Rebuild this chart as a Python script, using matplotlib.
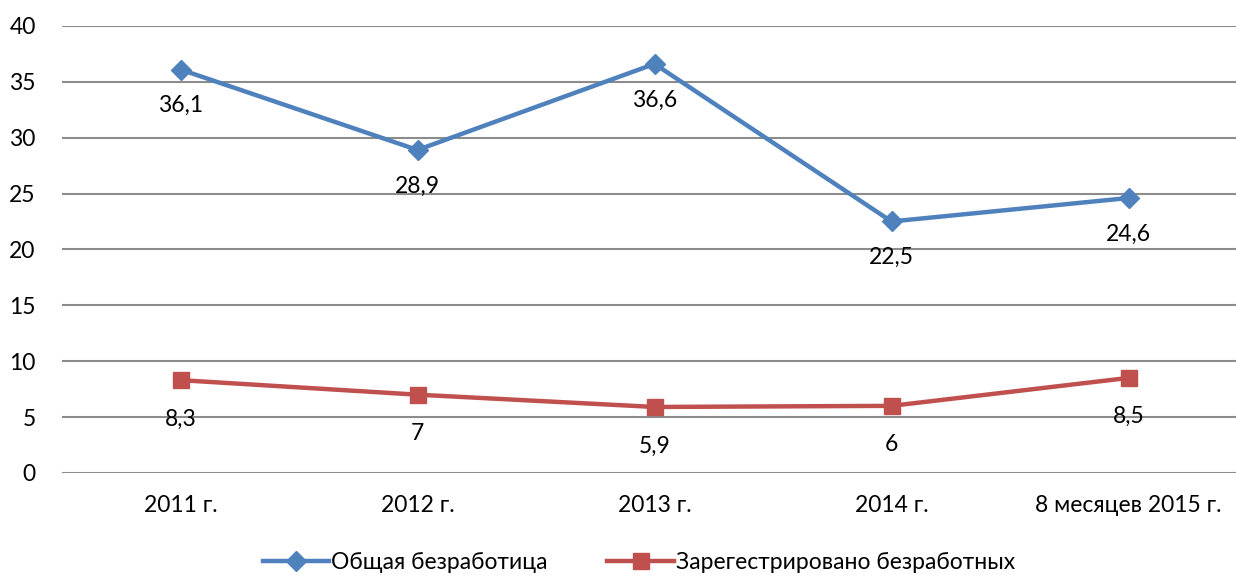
import matplotlib.pyplot as plt

plt.rcParams['font.family'] = ['Lato', 'DejaVu Sans']

categories = ["2011 г.", "2012 г.", "2013 г.", "2014 г.", "8 месяцев 2015 г."]
total_unemp = [36.1, 28.9, 36.6, 22.5, 24.6]
registered = [8.3, 7, 5.9, 6, 8.5]
total_labels = ["36,1", "28,9", "36,6", "22,5", "24,6"]
reg_labels = ["8,3", "7", "5,9", "6", "8,5"]

fs = 16.5

fig = plt.figure(figsize=(12.36, 5.76), dpi=100)
ax = fig.add_axes([62 / 1236, 0.179, 1185 / 1236, 0.776])

x = list(range(len(categories)))
ax.plot(x, total_unemp, color='#4F81BD', lw=3.2, marker='D', ms=10,
        label='Общая безработица', zorder=3)
ax.plot(x, registered, color='#C0504D', lw=3.2, marker='s', ms=12,
        label='Зарегестрировано безработных', zorder=3)

# подписи значений под точками
for xi, v, t in zip(x, total_unemp, total_labels):
    ax.annotate(t, (xi, v), xytext=(0, -26), textcoords='offset points',
                ha='center', va='center', fontsize=fs)
for xi, v, t in zip(x, registered, reg_labels):
    ax.annotate(t, (xi, v), xytext=(0, -28), textcoords='offset points',
                ha='center', va='center', fontsize=fs)

ax.set_xlim(-0.5, 4.5)
ax.set_ylim(0, 40)
ax.set_yticks(range(0, 41, 5))
ax.set_xticks(x)
ax.set_xticklabels(categories)
ax.tick_params(axis='both', length=0, labelsize=fs)
ax.tick_params(axis='y', pad=19)
ax.tick_params(axis='x', pad=16)
ax.grid(axis='y', color='#8c8c8c', lw=1.5)
ax.set_axisbelow(True)
for s in ax.spines.values():
    s.set_visible(False)

fig.legend(loc='center', bbox_to_anchor=(0.517, 0.023), ncol=2, frameon=False,
           fontsize=fs, handlelength=2.9, handletextpad=0.1, columnspacing=2.6)

fig.savefig('out.png', dpi=100)
